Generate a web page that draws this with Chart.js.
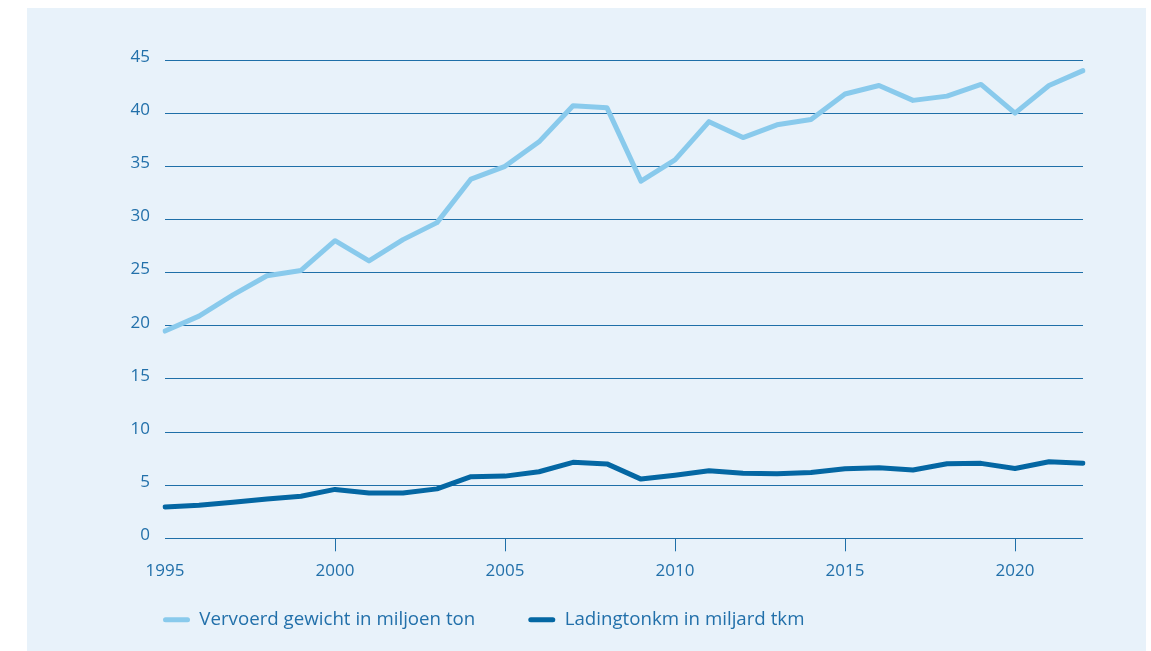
<!DOCTYPE html>
<html>
<head>
<meta charset="utf-8">
<script src="https://cdn.jsdelivr.net/npm/chart.js@4.4.0/dist/chart.umd.min.js"></script>
<style>
  body { margin: 0; background: #ffffff; overflow: hidden; }
  #panel { position: absolute; left: 27px; top: 8px; width: 1119px; height: 660px; background: #e8f2fa; }
  #wrap { position: relative; width: 1119px; height: 656px; }
</style>
</head>
<body>
<div id="panel">
  <div id="wrap"><canvas id="myChart"></canvas></div>
</div>
<script>
// jaren (categorieen)
var years = [1995, 1996, 1997, 1998, 1999, 2000, 2001, 2002, 2003, 2004, 2005, 2006, 2007, 2008,
  2009, 2010, 2011, 2012, 2013, 2014, 2015, 2016, 2017, 2018, 2019, 2020, 2021, 2022];

// Vervoerd gewicht in miljoen ton
var gewicht = [19.5, 20.9, 22.9, 24.7, 25.2, 28.0, 26.1, 28.1, 29.7, 33.8, 35.0, 37.3, 40.7, 40.5,
  33.6, 35.6, 39.2, 37.7, 38.9, 39.4, 41.8, 42.6, 41.2, 41.6, 42.7, 40.0, 42.6, 44.0];

// Ladingtonkm in miljard tkm
var tonkm = [2.95, 3.1, 3.4, 3.7, 3.95, 4.6, 4.27, 4.27, 4.65, 5.8, 5.85, 6.26, 7.15, 7.0,
  5.57, 5.94, 6.35, 6.13, 6.07, 6.2, 6.54, 6.63, 6.42, 7.01, 7.05, 6.57, 7.2, 7.07];

var yTicks = [0, 5, 10, 15, 20, 25, 30, 35, 40, 45];

var textColor = "#2270aa";
var gridColor = "#1f6fa8";
var lightBlue = "#89caec";
var darkBlue = "#0467a3";

// legenda dichter onder de x-as zetten
var legendShift = {
  id: "legendShift",
  afterLayout: (chart) => {
    chart.legend.top = chart.chartArea.bottom + 19;
  },
};

createChart = () => {
  const ctx = document.getElementById("myChart").getContext("2d");
  new Chart(ctx, {
    type: "line",
    plugins: [legendShift],
    data: {
      labels: years,
      datasets: [
        {
          label: "Vervoerd gewicht in miljoen ton",
          data: gewicht,
          borderColor: lightBlue,
          backgroundColor: lightBlue,
          borderWidth: 5,
          pointRadius: 0,
          borderCapStyle: "round",
          borderJoinStyle: "round",
          tension: 0,
        },
        {
          label: "Ladingtonkm in miljard tkm",
          data: tonkm,
          borderColor: darkBlue,
          backgroundColor: darkBlue,
          borderWidth: 5,
          pointRadius: 0,
          borderCapStyle: "round",
          borderJoinStyle: "round",
          tension: 0,
        },
      ],
    },
    options: {
      responsive: true,
      maintainAspectRatio: false,
      animation: false,
      layout: { padding: { left: 83, right: 63, top: 52, bottom: 0 } },
      plugins: {
        tooltip: { enabled: false },
        legend: {
          position: "bottom",
          align: "start",
          labels: {
            padding: 53,
            boxWidth: 27,
            boxHeight: 5,
            useBorderRadius: true,
            borderRadius: 2.5,
            color: textColor,
            font: { family: "'Open Sans', sans-serif", size: 18.7 },
            generateLabels: (chart) =>
              chart.data.datasets.map((ds, i) => ({
                text: ds.label,
                fillStyle: ds.borderColor,
                strokeStyle: ds.borderColor,
                lineWidth: 0,
                borderRadius: 2.5,
                fontColor: textColor,
                hidden: false,
                datasetIndex: i,
              })),
          },
        },
      },
      scales: {
        x: {
          type: "category",
          offset: false,
          border: { display: false },
          afterFit: (scale) => {
            scale.height = 44;
          },
          grid: {
            display: true,
            drawOnChartArea: false,
            drawTicks: true,
            tickLength: 13,
            tickColor: (c) => {
              var y = years[c.index];
              return y % 5 === 0 && y !== 1995 ? gridColor : "rgba(0,0,0,0)";
            },
          },
          ticks: {
            autoSkip: false,
            maxRotation: 0,
            padding: 10,
            color: textColor,
            font: { family: "'Open Sans', sans-serif", size: 17 },
            callback: function (val, i) {
              return years[i] % 5 === 0 ? String(years[i]) : "";
            },
          },
        },
        y: {
          min: 0,
          max: 45,
          border: { display: false },
          afterFit: (scale) => {
            scale.width = 55;
          },
          afterBuildTicks: (scale) => {
            scale.ticks = yTicks.map((v) => ({ value: v }));
          },
          grid: {
            color: gridColor,
            lineWidth: 1,
            drawTicks: false,
          },
          ticks: {
            padding: 15,
            labelOffset: -3,
            color: textColor,
            font: { family: "'Open Sans', sans-serif", size: 17 },
          },
        },
      },
    },
  });
};

createChart();
</script>
</body>
</html>
